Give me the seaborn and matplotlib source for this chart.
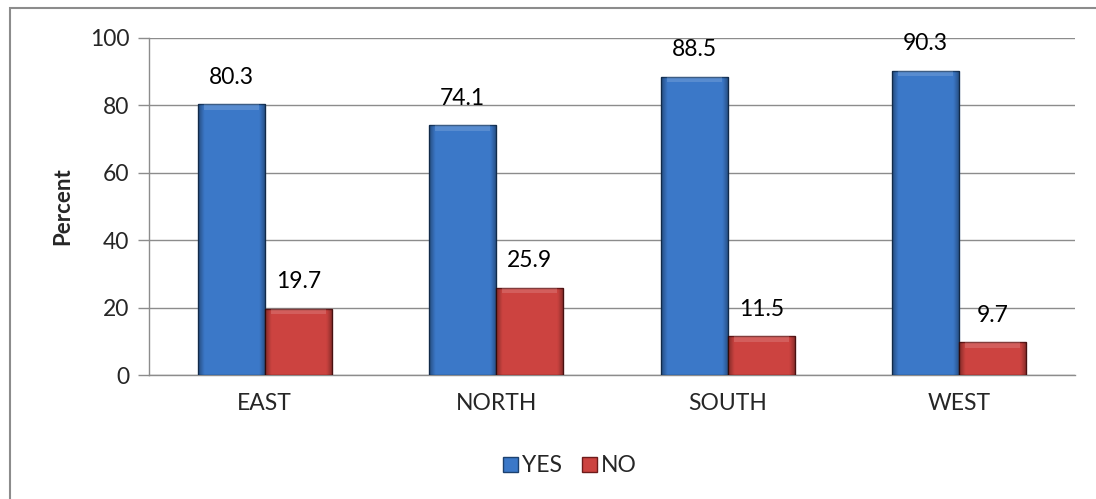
import matplotlib
matplotlib.use("Agg")
import matplotlib.pyplot as plt
import seaborn as sns
import pandas as pd
import numpy as np
from matplotlib.patches import Rectangle

# Survey results by region
regions = ["EAST", "NORTH", "SOUTH", "WEST"]
yes_pct = [80.3, 74.1, 88.5, 90.3]
no_pct = [19.7, 25.9, 11.5, 9.7]
series = ["YES", "NO"]
y_ticks = [0, 20, 40, 60, 80, 100]

df = pd.DataFrame({
    "Region": regions * 2,
    "Answer": ["YES"] * len(regions) + ["NO"] * len(regions),
    "Percent": yes_pct + no_pct,
})

sns.set_theme(style="white")
plt.rcParams["font.family"] = ["Lato", "DejaVu Sans"]

palette = {"YES": "#3B78C8", "NO": "#CC4340"}
edge = {"YES": "#1C416F", "NO": "#6E1B1B"}

fig = plt.figure(figsize=(10.96, 4.99), dpi=100)
ax = fig.add_axes([149 / 1096, 1 - 375 / 499, (1075 - 149) / 1096, (375 - 38) / 499])

sns.barplot(data=df, x="Region", y="Percent", hue="Answer", order=regions,
            hue_order=series, palette=palette, width=0.58, saturation=1,
            ax=ax, legend=False, zorder=3)

# Darker outline and bevel shading on each bar
t = np.linspace(0, 1, 64)
edge_dark = np.clip(np.maximum(0.09 - t, t - 0.91), 0, None) / 0.09 * 0.35
for container, name in zip(ax.containers, series):
    for bar in container:
        bar.set_edgecolor(edge[name])
        bar.set_linewidth(1.0)
        x0, y0 = bar.get_x(), bar.get_y()
        w, h = bar.get_width(), bar.get_height()
        rgba = np.zeros((1, 64, 4))
        rgba[0, :, 3] = edge_dark
        img = ax.imshow(rgba, extent=[x0, x0 + w, y0, y0 + h],
                        aspect="auto", zorder=3.5, interpolation="bilinear")
        img.set_clip_path(bar)
        cap = min(1.6, h * 0.25)
        ax.add_patch(Rectangle((x0 + w * 0.09, y0 + h - cap), w * 0.82, cap,
                               facecolor="white", alpha=0.15, lw=0, zorder=3.6))
    ax.bar_label(container, labels=[f"{v:.1f}" for v in container.datavalues],
                 padding=12, fontsize=16.5, color="black")

ax.set_ylim(0, 100)
ax.set_yticks(y_ticks)
ax.set_yticklabels([str(t) for t in y_ticks], fontsize=16.5)
ax.set_xlim(-0.5, len(regions) - 0.5)
ax.tick_params(axis="x", labelsize=16.5, length=0, pad=13)
ax.tick_params(axis="y", length=8, width=1, color="#8C8C8C", pad=6, left=True)
ax.set_xlabel("")
ax.set_ylabel("Percent", fontsize=16, fontweight="bold", labelpad=12)
ax.yaxis.grid(True, color="#8C8C8C", linewidth=1)
ax.set_axisbelow(True)
for side in ["top", "right"]:
    ax.spines[side].set_visible(False)
for side in ["left", "bottom"]:
    ax.spines[side].set_color("#8C8C8C")
    ax.spines[side].set_linewidth(1)

# Legend below the plot
handles = [Rectangle((0, 0), 1, 1, facecolor=palette[s], edgecolor=edge[s]) for s in series]
fig.legend(handles, series, loc="center", bbox_to_anchor=(0.52, 1 - 466 / 499),
           ncol=2, frameon=False, fontsize=16.5, handlelength=0.65, handleheight=0.65,
           handletextpad=0.15, columnspacing=0.9)

# Outer chart frame
fig.patches.append(Rectangle((10 / 1096, -0.1), 1.2, 1 - 8 / 499 + 0.1,
                             transform=fig.transFigure, fill=False,
                             edgecolor="#8C8C8C", linewidth=1.5))

fig.savefig("out.png", dpi=100)
